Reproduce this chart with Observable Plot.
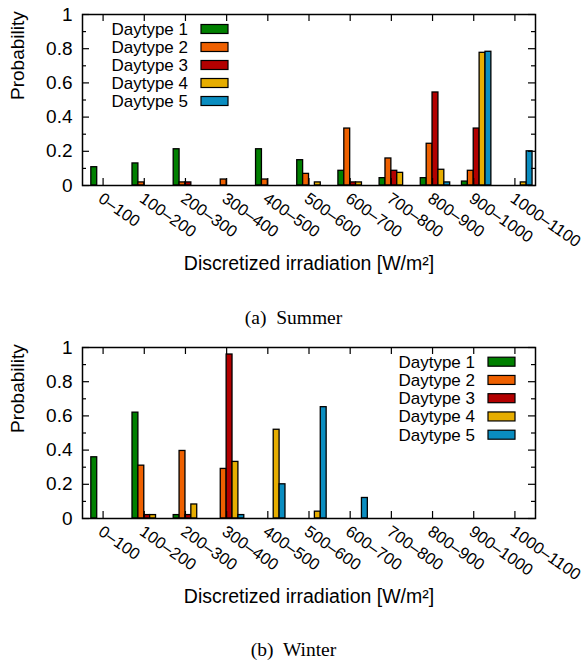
<!DOCTYPE html>
<html><head><meta charset="utf-8">
<script src="https://cdn.jsdelivr.net/npm/d3@7"></script>
<script src="https://cdn.jsdelivr.net/npm/@observablehq/plot@0.6"></script>
<style>
body{margin:0;background:#fff;}
#wrap{position:relative;width:587px;height:661px;background:#fff;overflow:hidden;}
.cap{position:absolute;left:0;width:587px;text-align:center;font-family:"Liberation Serif","Times New Roman",serif;font-size:19.5px;line-height:22px;color:#000;white-space:pre;}
.chart{position:absolute;left:0;}
</style></head><body>
<div id="wrap">
  <div id="top" class="chart" style="top:0px"></div>
  <div class="cap" style="top:307px">(a)  Summer</div>
  <div id="bot" class="chart" style="top:330px"></div>
  <div class="cap" style="top:639px">(b)  Winter</div>
</div>
<script>
// ---- data ----
const bins = ["0–100","100–200","200–300","300–400","400–500","500–600","600–700","700–800","800–900","900–1000","1000–1100"];
const daytypes = ["Daytype 1","Daytype 2","Daytype 3","Daytype 4","Daytype 5"];
const colors = ["#008000","#ee6000","#b30000","#e6ad00","#0a8dc0"];

const summerD1 = [0.107,0.129,0.212,0,0.212,0.148,0.086,0.043,0.043,0.023,0];
const summerD2 = [0,0.018,0.018,0.035,0.035,0.068,0.333,0.158,0.244,0.086,0];
const summerD3 = [0,0,0.018,0,0,0,0.018,0.086,0.544,0.333,0];
const summerD4 = [0,0,0,0,0,0.018,0.018,0.074,0.092,0.776,0.018];
const summerD5 = [0,0,0,0,0,0,0,0,0.018,0.782,0.2];

const winterD1 = [0.358,0.619,0.02,0,0,0,0,0,0,0,0];
const winterD2 = [0,0.309,0.395,0.29,0,0,0,0,0,0,0];
const winterD3 = [0,0.02,0.02,0.959,0,0,0,0,0,0,0];
const winterD4 = [0,0.02,0.082,0.331,0.519,0.04,0,0,0,0,0];
const winterD5 = [0,0,0,0.02,0.2,0.651,0.12,0,0,0,0];

const yTicks = [0,0.2,0.4,0.6,0.8,1];
const yTickLabels = ["0","0.2","0.4","0.6","0.8","1"];
const yMinor = [0.1,0.3,0.5,0.7,0.9];
const xLabel = "Discretized irradiation [W/m²]";
const yLabel = "Probability";

const FONT = "'Liberation Sans', Arial, Helvetica, sans-serif";

function makeChart(series, opts) {
  const W = 587, mL = 82, mR = 52;
  const fw = W - mL - mR, fh = 171;
  const data = [];
  series.forEach((vals, j) => vals.forEach((v, g) => { if (v > 0) data.push({g, j, t: daytypes[j], v}); }));
  const gIdx = bins.map((_, i) => i);
  const plot = Plot.plot({
    width: W, height: opts.height,
    marginLeft: mL, marginRight: mR, marginTop: opts.mTop, marginBottom: opts.height - opts.mTop - fh,
    x: {type: "linear", domain: [-0.5, 10.5], axis: null},
    y: {domain: [0, 1], axis: null},
    color: {domain: daytypes, range: colors},
    style: {fontFamily: FONT, background: "white", color: "black", overflow: "visible"},
    marks: [
      Plot.rect(data, {x1: d => d.g + (d.j - 2) / 7, x2: d => d.g + (d.j - 1) / 7, y1: 0, y2: d => d.v,
        fill: "t", stroke: "black", strokeWidth: 1.3}),
      // y ticks (inward, both sides)
      Plot.tickY(yTicks, {y: d => d, insetRight: fw - 7, stroke: "black", strokeWidth: 1.2}),
      Plot.tickY(yTicks, {y: d => d, insetLeft: fw - 7, stroke: "black", strokeWidth: 1.2}),
      Plot.tickY(yMinor, {y: d => d, insetRight: fw - 4, stroke: "black", strokeWidth: 1.2}),
      Plot.tickY(yMinor, {y: d => d, insetLeft: fw - 4, stroke: "black", strokeWidth: 1.2}),
      // x ticks (inward, top and bottom)
      Plot.tickX(gIdx, {x: d => d, insetBottom: fh - 7, stroke: "black", strokeWidth: 1.2}),
      Plot.tickX(gIdx, {x: d => d, insetTop: fh - 7, stroke: "black", strokeWidth: 1.2}),
      Plot.axisY({ticks: yTicks, tickSize: 0, tickPadding: 10, tickFormat: (d) => yTickLabels[yTicks.indexOf(d)], fontSize: 19, label: null}),
      Plot.text(bins, {x: (d, i) => i, y: 0, text: d => d, rotate: 35, textAnchor: "start", lineAnchor: "top",
        dx: 1, dy: 6, fontSize: 16.5}),
      Plot.text([xLabel], {frameAnchor: "bottom", text: d => d, dy: 78, lineAnchor: "middle", fontSize: 19.5}),
      Plot.text([yLabel], {frameAnchor: "left", text: d => d, rotate: -90, dx: -65, lineAnchor: "middle", fontSize: 19}),
      Plot.frame({stroke: "black", strokeWidth: 1.5})
    ]
  });
  // legend
  const svg = d3.select(plot);
  const lg = svg.append("g").attr("font-family", FONT).attr("font-size", 17);
  daytypes.forEach((t, i) => {
    const cy = opts.legY + opts.legStep * i;
    lg.append("text").attr("x", opts.legTextX).attr("y", cy).attr("dy", "0.35em")
      .attr("text-anchor", "end").attr("fill", "black").text(t);
    lg.append("rect").attr("x", opts.legTextX + 13).attr("y", cy - 4.5).attr("width", 27).attr("height", 9)
      .attr("fill", colors[i]).attr("stroke", "black").attr("stroke-width", 1.2);
  });
  return plot;
}

document.getElementById("top").appendChild(makeChart(
  [summerD1, summerD2, summerD3, summerD4, summerD5],
  {height: 300, mTop: 14, legTextX: 188, legY: 29, legStep: 18}));
document.getElementById("bot").appendChild(makeChart(
  [winterD1, winterD2, winterD3, winterD4, winterD5],
  {height: 290, mTop: 17, legTextX: 475, legY: 31.7, legStep: 18.25}));
</script>
</body></html>
